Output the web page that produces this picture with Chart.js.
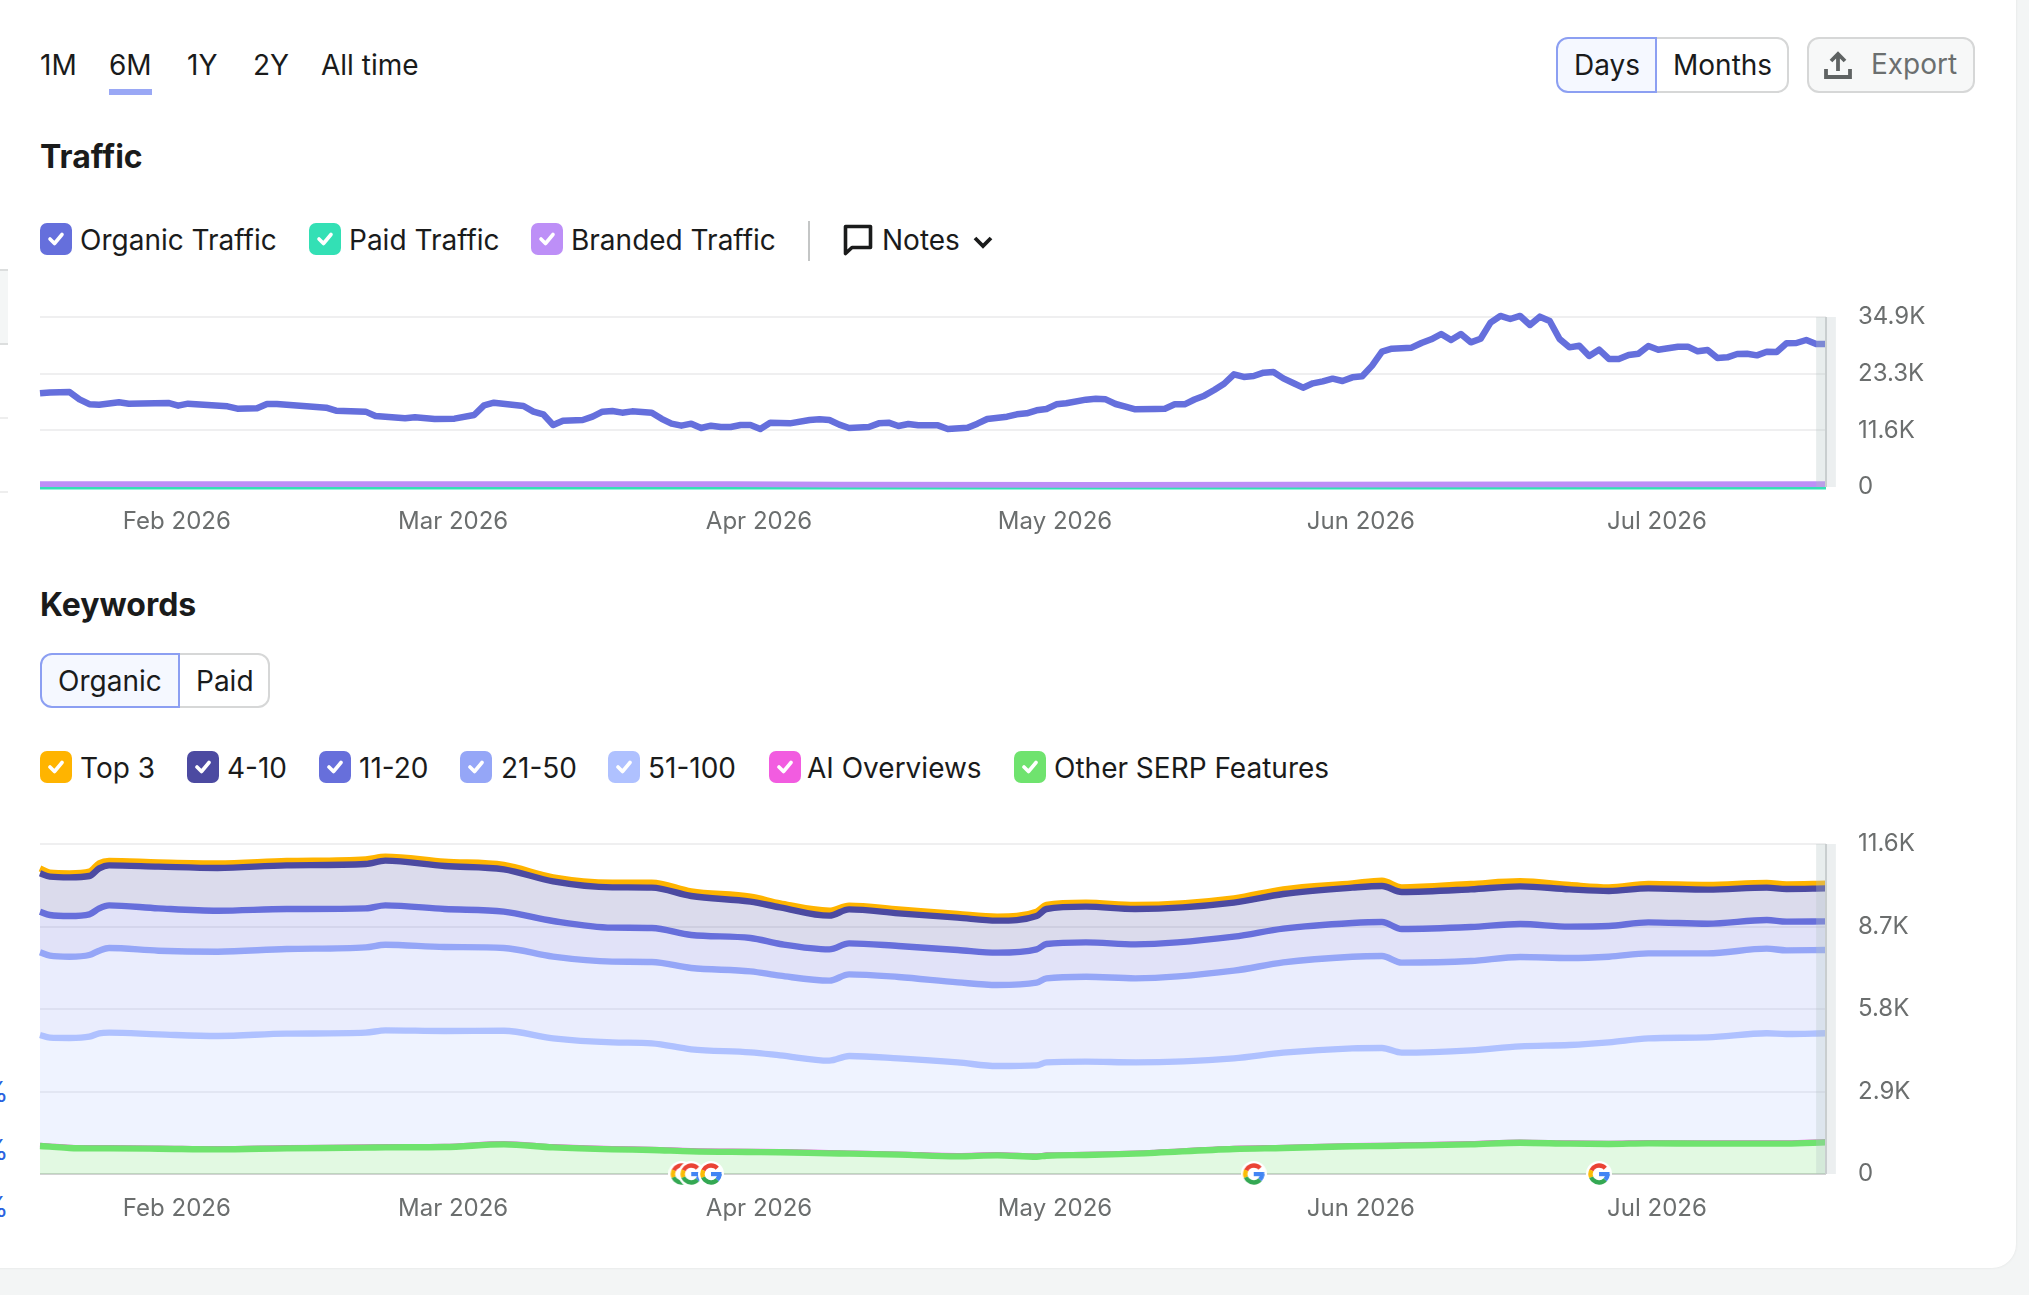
<!DOCTYPE html>
<html>
<head>
<meta charset="utf-8">
<title>Traffic and Keywords</title>
<script src="https://cdn.jsdelivr.net/npm/chart.js@4"></script>
<style>
  html, body { margin: 0; padding: 0; }
  body { width: 2029px; height: 1295px; background: #f3f5f5; overflow: hidden; position: relative;
         font-family: Inter, "Noto Sans", sans-serif; color: #1a1b1b; }
  #card { position: absolute; left: -40px; top: -40px; width: 2056px; height: 1308px; background: #fff;
          border-radius: 24px; box-shadow: 0 0 3px rgba(0,0,0,.08); }
  .abs { position: absolute; white-space: nowrap; line-height: 1; }
  .txt { font-size: 28px; transform: translateY(calc(-50% + 0.5px)); }
  .title { font-size: 32px; font-weight: 700; transform: translateY(calc(-50% + 0.5px)); }
  .box { position: absolute; width: 32px; height: 32px; border-radius: 7px; }
  .box svg { position: absolute; left: 6px; top: 7px; }
  .seg { position: absolute; box-sizing: border-box; border: 2px solid #d6d7d7; background: #fff; }
  .seg.on { border-color: #8c9ff2; background: #f5f8ff; }
  canvas { position: absolute; }
</style>
</head>
<body>
<div id="card"></div>
<div id="page"></div>
<canvas id="trafficChart" width="2016" height="260" style="left:0;top:290px"></canvas>
<canvas id="keywordChart" width="2016" height="420" style="left:0;top:820px"></canvas>

<script>
// x axis is counted in days from 18 Jan 2026
const monthDays = [14, 42, 73, 103, 134, 164];
const monthLabels = ["Feb 2026", "Mar 2026", "Apr 2026", "May 2026", "Jun 2026", "Jul 2026"];
const lastDay = 181;

const trafficTicks = [0, 11600, 23300, 34900];
const keywordTicks = [0, 2900, 5800, 8700, 11600];

// traffic
const organicDays = [0,1,3,4,5,6,8,9,13,14,15,19,20,22,23,24,28,29,30,33,34,37,38,40,42,44,45,46,49,50,51,52,53,55,56,57,58,59,60,62,
  63,64,65,66,67,68,69,70,71,72,73,74,76,78,79,80,81,82,84,85,86,87,88,89,91,92,94,95,96,98,99,100,101,102,103,104,106,107,108,109,
  110,111,113,114,115,116,117,118,119,120,121,122,123,124,125,126,127,128,129,130,131,132,133,134,135,136,137,139,140,141,142,143,144,145,146,147,148,149,150,
  151,152,153,154,155,156,157,158,159,160,161,162,163,164,166,167,168,169,170,171,172,173,174,175,176,177,178,179,180,181];
const organicTraffic = [19230,19400,19500,18000,17000,16900,17380,17110,17250,16700,17110,16560,16080,16150,17040,17040,16420,16290,15670,15470,14580,14100,14300,13960,14030,14780,16770,17310,16630,15470,14920,12730,13620,13760,14440,15470,15600,15260,15530,15260,
  14000,13000,12590,13000,12110,12590,12320,12320,12730,12730,11910,13210,13070,13760,13890,13760,12800,12110,12320,13070,13210,12520,12930,12660,12660,11910,12180,13000,13960,14440,14920,15120,15740,16010,16970,17180,17930,18130,18000,17040,
  16500,15950,16010,16080,16970,16970,17960,18750,19910,21200,23130,22600,22790,23470,23610,22300,21350,20390,21280,21690,22240,21760,22510,22720,24910,27780,28400,28600,29560,30320,31410,30180,31410,29700,30450,33740,35110,34490,35110,
  33260,34970,34080,30380,28670,29010,26890,28190,26280,26280,27100,27370,28950,28190,28810,28810,27850,28130,26480,26620,27300,27370,27030,27780,27720,29500,29560,30180,29360,29360];
const lowDays = [0, 70, 81, 107, 127, 181];
const brandedTraffic = [570, 570, 500, 430, 470, 570];
const paidTraffic = [10, 10, 10, 10, 10, 10];

// keywords, each list is the height of its stacked line
const keywordDays = [0,1,3,5,6,7,12,18,25,33,35,41,47,52,58,62,66,72,75,80,82,87,93,97,101,102,106,111,121,126,133,136,138,145,150,155,159,163,169,175,177,181];
const top3 = [10745,10592,10569,10627,10920,11002,10955,10920,11002,11061,11155,10979,10862,10428,10241,10241,9936,9749,9514,9256,9432,9303,9139,9045,9221,9456,9538,9456,9690,10006,10217,10311,10077,10194,10288,10159,10077,10194,10159,10229,10182,10205];
const pos4to10 = [10569,10452,10428,10475,10745,10850,10803,10756,10850,10897,11014,10826,10709,10288,10077,10065,9772,9573,9374,9081,9303,9163,9010,8905,9069,9315,9397,9315,9538,9842,10065,10123,9913,10006,10112,10006,9948,10041,9995,10065,10018,10041];
const pos11to20 = [9221,9104,9069,9128,9338,9444,9338,9256,9315,9338,9444,9315,9221,8893,8659,8647,8401,8296,8085,7897,8108,8014,7874,7780,7897,8085,8143,8073,8342,8624,8823,8858,8612,8682,8788,8694,8717,8846,8799,8928,8870,8881];
const pos21to50 = [7792,7675,7639,7698,7850,7944,7850,7815,7909,7968,8061,7979,7944,7639,7464,7452,7241,7124,6972,6796,7018,6925,6737,6644,6726,6878,6936,6878,7147,7440,7639,7663,7429,7487,7628,7593,7639,7757,7757,7921,7862,7874];
const pos51to100 = [4886,4792,4781,4827,4945,4968,4909,4851,4933,4968,5050,5027,5038,4769,4628,4593,4382,4277,4171,3984,4148,4066,3925,3796,3820,3925,3949,3925,4066,4265,4417,4429,4265,4347,4488,4534,4628,4769,4804,4945,4921,4945];
const aiOverviews = [1030,1005,960,948,945,945,935,912,948,972,982,995,1088,982,912,890,842,818,808,772,760,725,668,700,655,690,712,760,925,960,1018,1030,1042,1088,1146,1112,1100,1124,1112,1112,1112,1158];
const otherSerp = [984,961,914,902,902,902,890,867,902,926,937,949,1043,937,867,844,797,773,762,726,715,680,621,656,609,644,668,715,879,914,973,984,996,1043,1101,1066,1055,1078,1066,1066,1066,1113];

// google update markers sit on the baseline
const googleDays = [65, 66, 68, 123, 158];

const tabs = [["1M", 40], ["6M", 109], ["1Y", 187], ["2Y", 253], ["All time", 321]];
const trafficLegend = [
  ["Organic Traffic", "#656fdc", 40, 80],
  ["Paid Traffic", "#33e0b5", 309, 349],
  ["Branded Traffic", "#bd8ff7", 531, 571]
];
const keywordLegend = [
  ["Top 3", "#ffb400", 40, 80],
  ["4-10", "#4c4aa1", 187, 227],
  ["11-20", "#676fdb", 319, 359],
  ["21-50", "#95a6f7", 460, 501],
  ["51-100", "#afc1ff", 608, 648],
  ["AI Overviews", "#f25ce0", 769, 807],
  ["Other SERP Features", "#6fe36e", 1014, 1054]
];

const page = document.getElementById("page");

function addText(text, x, y, cls, color) {
  let el = document.createElement("div");
  el.className = "abs " + cls;
  el.textContent = text;
  el.style.left = x + "px";
  el.style.top = y + "px";
  if (color) el.style.color = color;
  page.appendChild(el);
  return el;
}

function addBox(css) {
  let el = document.createElement("div");
  el.className = "abs";
  el.style.cssText += css;
  page.appendChild(el);
  return el;
}

function addLegend(items, y) {
  items.forEach(it => {
    let box = document.createElement("div");
    box.className = "box";
    box.style.cssText = `left:${it[2]}px;top:${y - 16}px;background:${it[1]}`;
    box.innerHTML = '<svg width="20" height="18" viewBox="0 0 20 18"><path d="M4 9l4.5 4.5L16 4.5" fill="none" stroke="#fff" stroke-width="3.6" stroke-linecap="round" stroke-linejoin="round"/></svg>';
    page.appendChild(box);
    addText(it[0], it[3], y, "txt");
  });
}

function addSegment(x, y, w, h, on, radius) {
  let el = document.createElement("div");
  el.className = "seg" + (on ? " on" : "");
  el.style.cssText = `left:${x}px;top:${y}px;width:${w}px;height:${h}px;border-radius:${radius}`;
  page.appendChild(el);
}

// header row
tabs.forEach(t => addText(t[0], t[1], 64, "txt"));
addBox("left:109px;top:89px;width:43px;height:6px;background:#9aa8f5");

addSegment(1655, 37, 134, 56, false, "0 12px 12px 0");
addSegment(1556, 37, 101, 56, true, "12px 0 0 12px");
addText("Days", 1574, 64, "txt");
addText("Months", 1673, 64, "txt");
addBox("left:1807px;top:37px;width:168px;height:56px;box-sizing:border-box;border:2px solid #d6d7d7;border-radius:12px;background:#f7f8f8");
addText("Export", 1871, 63, "txt", "#6b6f6f");
let up = addBox("left:1824px;top:50px;width:28px;height:30px");
up.innerHTML = '<svg width="28" height="30" viewBox="0 0 28 30"><path d="M14 21V4M7 11l7-7 7 7M2 19v8h24v-8" fill="none" stroke="#5f6363" stroke-width="3.8"/></svg>';

// traffic header
addText("Traffic", 40, 156, "title");
addLegend(trafficLegend, 239);
addBox("left:808px;top:221px;width:2px;height:40px;background:#c4c6c6");
let note = addBox("left:843px;top:224px;width:30px;height:32px");
note.innerHTML = '<svg width="30" height="32" viewBox="0 0 30 32"><path d="M2.5 2.5h25v21H9l-6.5 6z" fill="none" stroke="#1a1b1b" stroke-width="3.6" stroke-linejoin="round"/></svg>';
addText("Notes", 882, 239, "txt");
let chev = addBox("left:972px;top:234px;width:22px;height:16px");
chev.innerHTML = '<svg width="22" height="16" viewBox="0 0 22 16"><path d="M3 4l8 8 8-8" fill="none" stroke="#1a1b1b" stroke-width="3.8"/></svg>';

// keywords header
addText("Keywords", 40, 604, "title");
addSegment(178, 653, 92, 55, false, "0 12px 12px 0");
addSegment(40, 653, 140, 55, true, "12px 0 0 12px");
addText("Organic", 58, 680, "txt");
addText("Paid", 196, 680, "txt");
addLegend(keywordLegend, 767);

// edge of the neighbouring panel on the left
addBox("left:0;top:269px;width:8px;height:76px;box-sizing:border-box;border-top:2px solid #dcdede;border-bottom:2px solid #dcdede;background:#f4f6f6");
addBox("left:0;top:417px;width:8px;height:2px;background:#eeeeee");
addBox("left:0;top:491px;width:8px;height:2px;background:#eeeeee");
[1091, 1149, 1206].forEach(y => addText("%", -19, y, "txt", "#2a63e0"));

function makeGoogleIcon() {
  let c = document.createElement("canvas");
  c.width = 26;
  c.height = 26;
  let g = c.getContext("2d");
  g.fillStyle = "#fff";
  g.beginPath();
  g.arc(13, 13, 13, 0, Math.PI * 2);
  g.fill();
  g.lineWidth = 4.4;
  [["#ea4335", -2.7, -0.75], ["#fbbc05", 2.75, 3.6], ["#34a853", 0.75, 2.75], ["#4285f4", 0, 0.75]].forEach(a => {
    g.strokeStyle = a[0];
    g.beginPath();
    g.arc(13, 13, 8.5, a[1], a[2]);
    g.stroke();
  });
  g.fillStyle = "#4285f4";
  g.fillRect(13, 11, 10.5, 4.2);
  return c;
}

// grey strip over the most recent days
const todayBand = {
  id: "todayBand",
  afterDatasetsDraw(chart) {
    let x = chart.scales.x, area = chart.chartArea, c = chart.ctx;
    let a = x.getPixelForValue(180), b = x.getPixelForValue(181), e = x.getPixelForValue(182);
    c.save();
    c.fillStyle = "rgba(180,195,195,0.3)";
    c.fillRect(a, area.top, b - a, area.height);
    c.fillStyle = "#eceff0";
    c.fillRect(b, area.top, e - b, area.height);
    c.fillStyle = "#c9cecf";
    c.fillRect(b - 1, area.top, 2, area.height);
    c.restore();
  }
};

function points(days, values) {
  return days.map((d, i) => ({x: d, y: values[i]}));
}

function tickLabel(v) {
  return v === 0 ? "0" : (v / 1000).toFixed(1) + "K";
}

function makeOptions(yMax, yTicks, topPad, axisHeight) {
  return {
    responsive: false,
    animation: false,
    layout: {padding: {left: 40, top: topPad, right: 0, bottom: 0}},
    plugins: {legend: {display: false}, tooltip: {enabled: false}},
    elements: {point: {radius: 0}, line: {borderJoinStyle: "round", borderCapStyle: "butt"}},
    scales: {
      x: {
        type: "linear",
        min: 0,
        max: lastDay,
        grid: {display: false},
        border: {display: false},
        afterBuildTicks: s => { s.ticks = monthDays.map(d => ({value: d})); },
        afterFit: s => { s.height = axisHeight; s.paddingLeft = 0; s.paddingRight = 0; },
        ticks: {
          maxRotation: 0,
          autoSkip: false,
          padding: 12,
          labelOffset: -1.3,
          color: "#6b6e6e",
          font: {family: "Inter", size: 24},
          callback: v => monthLabels[monthDays.indexOf(v)]
        }
      },
      y: {
        position: "right",
        min: 0,
        max: yMax,
        border: {display: false},
        grid: {
          drawTicks: false,
          lineWidth: 2,
          color: c => c.tick.value === 0 ? "#d2d3d3" : "#efeff0"
        },
        afterBuildTicks: s => { s.ticks = yTicks.map(v => ({value: v})); },
        // tick padding would otherwise be added above the plot as well
        afterFit: s => { s.width = 190; s.paddingTop = 0; s.paddingBottom = 0; },
        ticks: {
          padding: 32,
          color: "#6b6e6e",
          font: {family: "Inter", size: 24},
          callback: tickLabel
        }
      }
    }
  };
}

function lineSet(days, values, color, width, fill, bg) {
  return {
    data: points(days, values),
    borderColor: color,
    borderWidth: width,
    fill: fill,
    backgroundColor: bg,
    clip: false
  };
}

// start
document.fonts.load("24px Inter").finally(() => {
  new Chart(document.getElementById("trafficChart"), {
    type: "line",
    data: {
      datasets: [
        lineSet(organicDays, organicTraffic, "#656fdc", 6.5, false),
        lineSet(lowDays, brandedTraffic, "#bd8ff7", 5.8, false),
        lineSet(lowDays, paidTraffic, "#33e0b5", 5, false)
      ]
    },
    options: makeOptions(34900, trafficTicks, 27, 63),
    plugins: [todayBand]
  });

  let googleIcon = makeGoogleIcon();
  let keywordSets = [
    lineSet(keywordDays, otherSerp, "#6fe36e", 6.4, "origin", "rgba(111,227,110,0.2)"),
    lineSet(keywordDays, aiOverviews, "#f25ce0", 4, false),
    lineSet(keywordDays, pos51to100, "#afc1ff", 6.4, "-1", "rgba(175,193,255,0.2)"),
    lineSet(keywordDays, pos21to50, "#95a6f7", 6.4, "-1", "rgba(149,166,247,0.2)"),
    lineSet(keywordDays, pos11to20, "#676fdb", 6.4, "-1", "rgba(103,111,219,0.2)"),
    lineSet(keywordDays, pos4to10, "#4c4aa1", 6.4, "-1", "rgba(76,74,161,0.2)"),
    lineSet(keywordDays, top3, "#ffb400", 6.4, false)
  ];
  keywordSets.forEach(s => { s.cubicInterpolationMode = "monotone"; });
  keywordSets.push({
    data: googleDays.map(d => ({x: d, y: 0})),
    showLine: false,
    pointStyle: googleIcon,
    pointRadius: 13,
    clip: false,
    order: -1
  });

  new Chart(document.getElementById("keywordChart"), {
    type: "line",
    data: {datasets: keywordSets},
    options: makeOptions(11600, keywordTicks, 24, 66),
    plugins: [todayBand]
  });
});
</script>
</body>
</html>
